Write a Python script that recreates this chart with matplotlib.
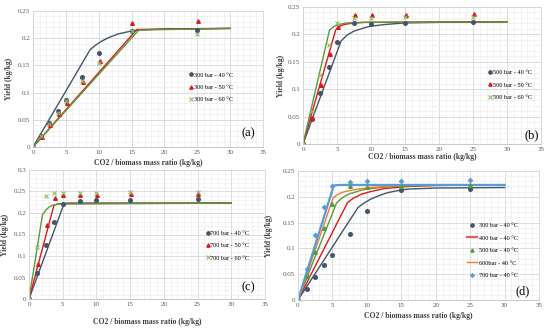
import matplotlib
matplotlib.use('Agg')
import matplotlib.pyplot as plt
from matplotlib.lines import Line2D
from matplotlib.ticker import MultipleLocator, FuncFormatter

plt.rcParams['font.family'] = ['Liberation Serif', 'DejaVu Serif']

NAVY = '#44546A'
RED = '#E01818'
GREEN = '#5A9A3C'
XGREEN = '#8CBF6A'
ORANGE = '#ED7D31'
LBLUE = '#5B9BD5'

# experimental ratios (kg CO2 / kg biomass)
x_exp = [0, 1.25, 2.5, 3.75, 5, 7.5, 10, 15, 25]
x_exp_shift = [0, 1.3, 2.6, 3.9, 5.1, 7.6, 10.15, 15.1, 25.1]

# (a) 300 bar
a40 = [0, 0.021, 0.044, 0.067, 0.087, 0.128, 0.172, 0.214, 0.215]
a50 = [0, 0.018, 0.040, 0.060, 0.080, 0.120, 0.158, 0.228, 0.232]
a60 = [0, 0.020, 0.042, 0.062, 0.085, 0.122, 0.155, 0.214, 0.208]
a40_mx = [0, 8.7, 9.5, 10.5, 11.7, 13, 14.9, 16, 20, 30]
a40_my = [0, 0.179, 0.187, 0.195, 0.202, 0.208, 0.213, 0.215, 0.217, 0.218]
a50_mx = [0, 15.8, 30]
a50_my = [0, 0.216, 0.218]
a60_mx = [0, 16.1, 30]
a60_my = [0, 0.215, 0.218]

# (b) 500 bar
b40 = [0, 0.046, 0.093, 0.140, 0.187, 0.220, 0.219, 0.221, 0.222]
b50 = [0, 0.048, 0.107, 0.165, 0.214, 0.235, 0.235, 0.236, 0.237]
b60 = [0, 0.060, 0.125, 0.181, 0.221, 0.230, 0.230, 0.231, 0.232]
b40_mx = [0, 5.6, 6.5, 7.5, 9, 10, 12, 15, 20, 30]
b40_my = [0, 0.188, 0.199, 0.206, 0.212, 0.215, 0.218, 0.221, 0.222, 0.223]
b50_mx = [0, 4.8, 5.3, 6, 7, 9, 30]
b50_my = [0, 0.208, 0.214, 0.218, 0.220, 0.222, 0.223]
b60_mx = [0, 3.9, 4.5, 5.2, 6.5, 9, 30]
b60_my = [0, 0.208, 0.214, 0.218, 0.221, 0.222, 0.223]

# (c) 700 bar
c40 = [0, 0.061, 0.126, 0.180, 0.221, 0.229, 0.230, 0.231, 0.233]
c50 = [0, 0.081, 0.172, 0.235, 0.242, 0.242, 0.242, 0.244, 0.244]
c60 = [0, 0.120, 0.240, 0.246, 0.247, 0.247, 0.247, 0.248, 0.248]
c40_mx = [0, 5.2, 6, 30]
c40_my = [0, 0.222, 0.223, 0.223]
c50_mx = [0, 3.7, 4.3, 5, 30]
c50_my = [0, 0.218, 0.221, 0.222, 0.223]
c60_mx = [0, 2.0, 2.5, 3, 3.5, 4.5, 30]
c60_my = [0, 0.196, 0.207, 0.214, 0.218, 0.221, 0.223]

# (d) 40 °C, pressure comparison (extra model curves)
d400_mx = [0, 7.2, 8, 9.2, 10.5, 12.6, 16, 20, 30]
d400_my = [0, 0.189, 0.197, 0.205, 0.210, 0.216, 0.220, 0.222, 0.223]
d600_mx = [0, 5.1, 5.7, 6.5, 7.5, 8.7, 10.5, 12.6, 16, 30]
d600_my = [0, 0.198, 0.204, 0.209, 0.212, 0.215, 0.218, 0.220, 0.222, 0.223]

XLABEL = 'CO2 / biomass mass ratio (kg/kg)'
YLABEL = 'Yield (kg/kg)'
MS = 2.6

W, H = 550, 328
fig = plt.figure(figsize=(5.5, 3.28), dpi=100)


def make_ax(x0, x1, ytop, ybot, ymax, xlab_dy, ylab_dx, tag, tag_xy):
    ax = fig.add_axes([x0 / W, (H - ybot) / H, (x1 - x0) / W, (ybot - ytop) / H])
    ax.set_xlim(0, 35)
    ax.set_ylim(0, ymax)
    ax.xaxis.set_major_locator(MultipleLocator(5))
    ax.xaxis.set_minor_locator(MultipleLocator(1))
    ax.yaxis.set_major_locator(MultipleLocator(0.05))
    ax.yaxis.set_minor_locator(MultipleLocator(0.01))
    ax.yaxis.set_major_formatter(FuncFormatter(lambda v, p: f'{v:g}'))
    ax.grid(which='major', color='#D6D6D6', lw=0.6)
    ax.grid(which='minor', color='#EEEEEE', lw=0.5)
    ax.set_axisbelow(True)
    for s in ax.spines.values():
        s.set_color('#D6D6D6')
        s.set_linewidth(0.6)
    ax.spines['bottom'].set_color('#BFBFBF')
    ax.tick_params(which='both', length=0, labelsize=5, colors='#595959', pad=2)
    ax.set_xlabel(XLABEL, fontsize=5.5, fontweight='bold', color='#404040')
    ax.set_ylabel(YLABEL, fontsize=5.5, fontweight='bold', color='#404040')
    ax.xaxis.set_label_coords(0.5, -xlab_dy / ((ybot - ytop)))
    ax.yaxis.set_label_coords(-ylab_dx / (x1 - x0), 0.5)
    fig.text(tag_xy[0] / W, 1 - tag_xy[1] / H, tag, fontsize=9, ha='center', va='center')
    return ax


def three_panel(ax, y40, y50, y60, m40, m50, m60, pressure, loc_xy):
    ax.plot(m40[0], m40[1], color=NAVY, lw=1.0)
    ax.plot(m50[0], m50[1], color=RED, lw=1.0)
    ax.plot(m60[0], m60[1], color=GREEN, lw=1.0)
    h1, = ax.plot(x_exp, y40, 'o', color=NAVY, ms=MS, ls='none')
    h2, = ax.plot(x_exp_shift, y50, '^', color=RED, ms=MS, ls='none')
    h3, = ax.plot(x_exp, y60, 'x', color=XGREEN, ms=MS, mew=0.8, ls='none')
    ax.legend([h1, h2, h3],
              [f'{pressure} bar - 40 °C', f'{pressure} bar - 50 °C', f'{pressure} bar - 60 °C'],
              loc='upper left', bbox_to_anchor=loc_xy, frameon=False, fontsize=4.5,
              handlelength=0.5, handletextpad=0.2, labelspacing=1.1, borderpad=0,
              borderaxespad=0, markerscale=0.9)


ax_a = make_ax(33, 263, 11, 147, 0.25, 12, 20, '(a)', (248, 133))
three_panel(ax_a, a40, a50, a60, (a40_mx, a40_my), (a50_mx, a50_my), (a60_mx, a60_my),
            300, (0.68, 0.55))

ax_b = make_ax(303, 541, 7, 144, 0.25, 9, 18, '(b)', (532, 135))
three_panel(ax_b, b40, b50, b60, (b40_mx, b40_my), (b50_mx, b50_my), (b60_mx, b60_my),
            500, (0.78, 0.54))

ax_c = make_ax(29, 265, 170, 299, 0.3, 19, 20, '(c)', (248, 287))
three_panel(ax_c, c40, c50, c60, (c40_mx, c40_my), (c50_mx, c50_my), (c60_mx, c60_my),
            700, (0.75, 0.53))

ax_d = make_ax(298, 539, 171, 300, 0.25, 12, 25, '(d)', (523, 291))
ax_d.plot(a40_mx, a40_my, color=NAVY, lw=1.0)
l400, = ax_d.plot(d400_mx, d400_my, color=RED, lw=1.0)
ax_d.plot(b40_mx, b40_my, color=GREEN, lw=1.0)
l600, = ax_d.plot(d600_mx, d600_my, color=ORANGE, lw=1.0)
ax_d.plot(c40_mx, c40_my, color=LBLUE, lw=1.6)
p300, = ax_d.plot(x_exp, a40, 'o', color=NAVY, ms=MS, ls='none')
p500, = ax_d.plot(x_exp, b40, '^', color=GREEN, ms=MS, ls='none')
p700, = ax_d.plot(x_exp, c40, marker=(4, 1, 0), color=LBLUE, ms=3.3, ls='none')
ax_d.legend([p300, Line2D([], [], color='#E06060', lw=1.6), p500, l600, p700],
            ['300 bar - 40 °C', '400 bar - 40 °C', '500 bar - 40 °C', '600bar - 40 °C',
             '700 bar - 40 °C'],
            loc='upper left', bbox_to_anchor=(0.7, 0.6), frameon=False, fontsize=4.5,
            handlelength=1.6, handletextpad=0.3, labelspacing=1.15, borderpad=0,
            borderaxespad=0, markerscale=0.9)

fig.savefig('out.png', dpi=100)
